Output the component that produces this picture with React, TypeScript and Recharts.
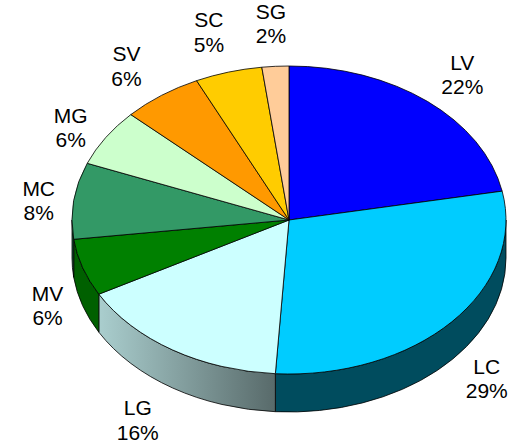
import React from "react";
import { PieChart, Pie, Cell } from "recharts";

const categories = ["LV", "LC", "LG", "MV", "MC", "MG", "SV", "SC", "SG"];
const values = [22, 29, 16, 6, 8, 6, 6, 5, 2];

const topColors = ["#0000FF", "#00CCFF", "#CCFFFF", "#008000", "#339966", "#CCFFCC", "#FF9900", "#FFCC00", "#FFCC99"];
const sideColors = ["#00007F", "#004C5E", "url(#lgSide)", "#006000", "#1E5C3C", "#7A8C7A", "#995C00", "#997A00", "#99795C"];

const data = categories.map((name, i) => ({ name, value: values[i], idx: i }));

const RATIO = 154 / 217;
const DEPTH = 38;
const RAD = Math.PI / 180;

const pt = (cx: number, cy: number, rx: number, ry: number, a: number, dy = 0) =>
  [cx + rx * Math.cos(a * RAD), cy - ry * Math.sin(a * RAD) + dy];

const Slice3D = (props: any) => {
  const { cx, cy, outerRadius, startAngle, endAngle, payload } = props;
  const idx = payload?.idx ?? props.idx ?? 0;
  const rx = outerRadius;
  const ry = outerRadius * RATIO;
  const s = Math.max(startAngle, endAngle);
  const e = Math.min(startAngle, endAngle);
  const p1 = pt(cx, cy, rx, ry, s);
  const p2 = pt(cx, cy, rx, ry, e);
  const large = s - e > 180 ? 1 : 0;
  const top = `M${cx},${cy} L${p1[0]},${p1[1]} A${rx},${ry} 0 ${large} 1 ${p2[0]},${p2[1]} Z`;
  const hi = Math.min(s, 0);
  const lo = Math.max(e, -180);
  let side: string | null = null;
  let gx1 = 0, gx2 = 0;
  if (hi > lo) {
    const a = pt(cx, cy, rx, ry, hi);
    const b = pt(cx, cy, rx, ry, lo);
    const bd = pt(cx, cy, rx, ry, lo, DEPTH);
    const ad = pt(cx, cy, rx, ry, hi, DEPTH);
    side = `M${a[0]},${a[1]} A${rx},${ry} 0 0 1 ${b[0]},${b[1]} L${bd[0]},${bd[1]} A${rx},${ry} 0 0 0 ${ad[0]},${ad[1]} Z`;
    gx1 = b[0];
    gx2 = a[0];
  }
  return (
    <g>
      {idx === 2 && (
        <defs>
          <linearGradient id="lgSide" gradientUnits="userSpaceOnUse" x1={gx1} y1={0} x2={gx2} y2={0}>
            <stop offset="0%" stopColor="#AACECE" />
            <stop offset="100%" stopColor="#586A6A" />
          </linearGradient>
        </defs>
      )}
      {side && <path d={side} fill={sideColors[idx]} stroke="#000" strokeWidth={0.8} />}
      <path d={top} fill={topColors[idx]} stroke="#000" strokeWidth={0.8} strokeLinejoin="round" />
    </g>
  );
};

const renderLabel = (props: any) => {
  const { cx, cy, outerRadius, midAngle, name, percent } = props;
  const rx = outerRadius;
  const ry = outerRadius * RATIO;
  const c = Math.cos(midAngle * RAD);
  const sn = Math.sin(midAngle * RAD);
  const ex = cx + rx * c;
  const ey = cy - ry * sn + (sn < 0 ? DEPTH : 0);
  const x = ex + (35 * c) / Math.max(Math.abs(c), 0.5);
  const yc = ey - Math.sign(sn) * Math.max(0, Math.abs(sn) - 0.4) * 72;
  return (
    <text
      x={x}
      y={yc - 4.75}
      textAnchor="middle"
      fontFamily="'Liberation Sans', Arial, sans-serif"
      fontSize={21}
      fill="#000"
    >
      <tspan x={x} dy={0}>{name}</tspan>
      <tspan x={x} dy={24.5}>{Math.round(percent * 100) + "%"}</tspan>
    </text>
  );
};

export default function App() {
  return (
    <div style={{ position: "absolute", left: 0, top: 0, width: 520, height: 444, background: "#fff" }}>
      <PieChart width={520} height={444} margin={{ top: 0, right: 0, bottom: 0, left: 0 }}>
        <Pie
          data={data}
          dataKey="value"
          nameKey="name"
          cx={289}
          cy={220}
          outerRadius={217}
          startAngle={90}
          endAngle={-270}
          stroke="#000"
          isAnimationActive={false}
          shape={Slice3D}
          activeShape={Slice3D}
          inactiveShape={Slice3D}
          label={renderLabel}
          labelLine={false}
        >
          {data.map((d) => (
            <Cell key={d.name} fill={topColors[d.idx]} />
          ))}
        </Pie>
      </PieChart>
    </div>
  );
}
